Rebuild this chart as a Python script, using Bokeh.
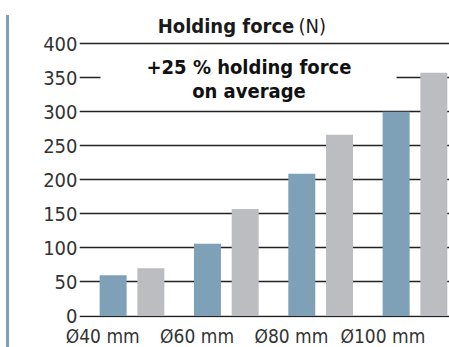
from bokeh.plotting import figure
from bokeh.models import (Range1d, FixedTicker, Label, BoxAnnotation, Div, ColumnDataSource)
from bokeh.layouts import row
from bokeh.embed import file_html
from bokeh.resources import INLINE

# ---- data ----
sizes = ["Ø40 mm", "Ø60 mm", "Ø80 mm", "Ø100 mm"]
old_force = [60, 106, 209, 300]
new_force = [70, 157, 266, 357]
y_ticks = [0, 50, 100, 150, 200, 250, 300, 350, 400]
title_bold = "Holding force"
title_unit = "(N)"
note_lines = ["+25 % holding force", "on average"]

FONT = "DejaVu Sans Condensed, Roboto Condensed, Roboto, sans-serif"
BLUE = "#7fa1b8"
GREY = "#bcbdc1"
DARK = "#222222"

idx = list(range(len(sizes)))
src = ColumnDataSource(dict(
    xb=[i - 0.2 for i in idx], xg=[i + 0.2 for i in idx],
    old=old_force, new=new_force))

p = figure(frame_width=372, frame_height=309, output_backend="svg", toolbar_location=None,
           x_range=Range1d(-0.5565, 3.387), y_range=Range1d(-2.2, 451.5),
           min_border_left=65, min_border_right=0, min_border_top=8, min_border_bottom=20)
p.outline_line_color = None
p.background_fill_color = "white"

p.vbar(x="xb", top="old", bottom=0, width=0.286, source=src, color=BLUE, line_color=None)
p.vbar(x="xg", top="new", bottom=0, width=0.286, source=src, color=GREY, line_color=None)

# y axis
p.yaxis.ticker = FixedTicker(ticks=y_ticks)
p.yaxis.axis_line_color = None
p.yaxis.major_tick_line_color = None
p.yaxis.minor_tick_line_color = None
p.yaxis.major_label_standoff = -4
p.yaxis.major_label_text_font = FONT
p.yaxis.major_label_text_font_size = "20px"
p.yaxis.major_label_text_color = "#333333"

p.ygrid.ticker = FixedTicker(ticks=y_ticks)
p.ygrid.grid_line_color = DARK
p.ygrid.grid_line_width = 1.5
p.xgrid.grid_line_color = None

# x axis (labels sit left of each bar pair)
label_shift = [-0.31, -0.31, -0.31, -0.34]
xt = [i + s for i, s in zip(idx, label_shift)]
p.xaxis.ticker = FixedTicker(ticks=xt)
p.xaxis.major_label_overrides = {t: s for t, s in zip(xt, sizes)}
p.xaxis.axis_line_color = None
p.xaxis.major_tick_line_color = None
p.xaxis.minor_tick_line_color = None
p.xaxis.major_label_standoff = 1
p.xaxis.major_label_text_font = FONT
p.xaxis.major_label_text_font_size = "19px"
p.xaxis.major_label_text_color = "#333333"

# white box behind the note
p.add_layout(BoxAnnotation(left=-0.334, right=2.804, bottom=312, top=395,
                           fill_color="white", fill_alpha=1.0, line_color=None))

p.add_layout(Label(x=1.72, y=426, text=title_bold, text_align="right",
                   text_baseline="alphabetic", text_font=FONT, text_font_style="bold",
                   text_font_size="20px", text_color="#1a1a1a"))
p.add_layout(Label(x=1.765, y=426, text=title_unit, text_align="left",
                   text_baseline="alphabetic", text_font=FONT,
                   text_font_size="20px", text_color="#1a1a1a"))

p.add_layout(Label(x=1.24, y=366, text=note_lines[0], text_align="center",
                   text_baseline="alphabetic", text_font=FONT, text_font_style="bold",
                   text_font_size="20px", text_color="#111111"))
p.add_layout(Label(x=1.24, y=330, text=note_lines[1], text_align="center",
                   text_baseline="alphabetic", text_font=FONT, text_font_style="bold",
                   text_font_size="20px", text_color="#111111"))

bar = Div(text='<div style="margin-left:1px;margin-top:10px;width:3px;height:335px;background:#7fa1b8"></div>',
          width=4, height=347)

layout = row(bar, p)
open("out.html", "w").write(file_html(layout, INLINE))
